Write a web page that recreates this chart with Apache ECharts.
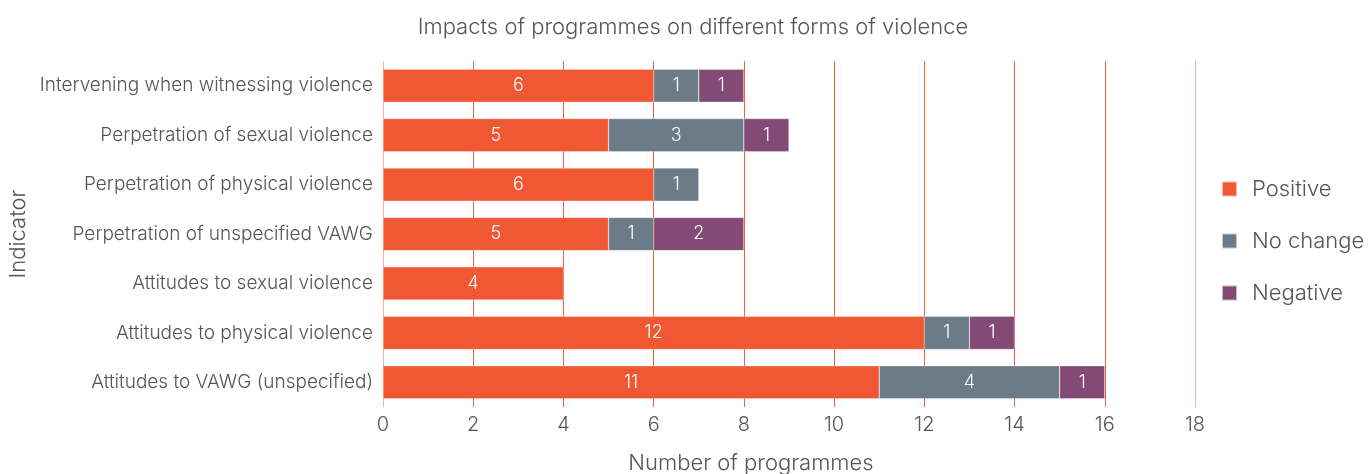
<!DOCTYPE html>
<html><head><meta charset="utf-8">
<script src="https://cdn.jsdelivr.net/npm/echarts@6/dist/echarts.min.js"></script>
<style>html,body{margin:0;padding:0;background:#fff}#c{width:1371px;height:474px}</style>
</head><body><div id="c"></div>
<script>
const categories = [
  "Intervening when witnessing violence",
  "Perpetration of sexual violence",
  "Perpetration of physical violence",
  "Perpetration of unspecified VAWG",
  "Attitudes to sexual violence",
  "Attitudes to physical violence",
  "Attitudes to VAWG (unspecified)"
];
const positive = [6, 5, 6, 5, 4, 12, 11];
const noChange = [1, 3, 1, 1, null, 1, 4];
const negative = [1, 1, null, 2, null, 1, 1];
const xTicks = [0, 2, 4, 6, 8, 10, 12, 14, 16, 18];

const font = "Inter, 'Noto Sans', sans-serif";
const gridCols = xTicks.map((v, i) => (i === 0 || i === xTicks.length - 1) ? '#f7b3a3' : '#f0633f');
const lbl = {show: true, position: 'inside', color: '#fff', fontSize: 18, fontFamily: font, fontWeight: 300};
function s(name, data, color) {
  return {name, type: 'bar', stack: 'a', data, barWidth: '67%',
    itemStyle: {color, borderColor: 'rgba(255,255,255,0.6)', borderWidth: 0.5},
    label: lbl, emphasis: {disabled: true}};
}
const chart = echarts.init(document.getElementById('c'), null, {renderer: 'canvas'});
chart.setOption({
  animation: false,
  title: {text: 'Impacts of programmes on different forms of violence', left: 688, top: 11, textAlign: 'center',
    textStyle: {fontSize: 22, fontWeight: 300, color: '#555', fontFamily: font}},
  legend: {orient: 'vertical', left: 1216, top: 173, itemGap: 30, itemWidth: 15, itemHeight: 15,
    icon: 'rect', textStyle: {fontSize: 22, color: '#555', fontFamily: font, fontWeight: 300, padding: [0, 0, 0, 10]}},
  grid: {left: 383, right: 176, top: 61, bottom: 67, containLabel: false, outerBoundsMode: 'none'},
  xAxis: {type: 'value', min: 0, max: 18, interval: 2,
    name: 'Number of programmes', nameLocation: 'middle', nameGap: 45,
    nameTextStyle: {fontSize: 22, color: '#555', fontFamily: font, fontWeight: 300, padding: [0, 76, 0, 0]},
    axisLine: {show: false}, axisTick: {show: false},
    axisLabel: {fontSize: 20, color: '#555', fontFamily: font, fontWeight: 300, margin: 8},
    splitLine: {show: true, lineStyle: {color: gridCols, width: 1}}},
  yAxis: {type: 'category', data: categories, inverse: true,
    name: 'Indicator', nameLocation: 'middle', nameGap: 351, nameRotate: 90,
    nameTextStyle: {fontSize: 22, color: '#555', fontFamily: font, fontWeight: 300},
    axisLine: {show: false}, axisTick: {show: false},
    axisLabel: {fontSize: 19, color: '#555', fontFamily: font, fontWeight: 300, margin: 10}},
  series: [s('Positive', positive, '#f05733'), s('No change', noChange, '#6b7b88'), s('Negative', negative, '#834a75')]
});
</script></body></html>
